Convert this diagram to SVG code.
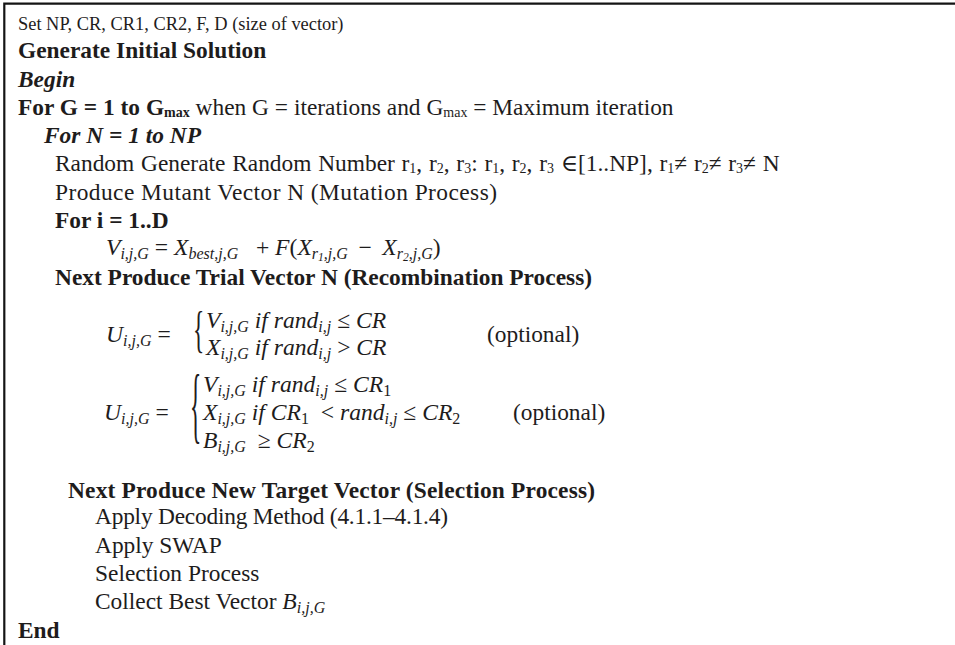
<svg xmlns="http://www.w3.org/2000/svg" width="955" height="645" viewBox="0 0 955 645">
  <style>
    .t { font-family: "Liberation Serif", "DejaVu Serif", serif; font-size: 23.4px; fill: #1e1c1c; }
    .b { font-weight: bold; }
    .bi { font-weight: bold; font-style: italic; }
    .sm { font-size: 14px; }
    .m { font-family: "Liberation Serif", "DejaVu Serif", serif; font-style: italic; font-size: 23.6px; fill: #1e1c1c; }
    .u { font-style: normal; }
    .s { font-size: 16px; }
    .ss { font-size: 11.5px; }
    .br { font-family: "Liberation Serif", "DejaVu Serif", serif; font-size: 23.4px; fill: #1e1c1c; }
  </style>

  <!-- frame: top rule and left rule -->
  <path d="M4.3 645 V3.7 H955" fill="none" stroke="#141414" stroke-width="2.2"/>

  <!-- header lines -->
  <g id="header">
    <text class="t" x="18" y="30" style="font-size:18.4px">Set NP, CR, CR1, CR2, F, D (size of vector)</text>
    <text class="t b" x="18" y="58">Generate Initial Solution</text>
    <text class="t bi" x="18" y="87">Begin</text>
    <text class="t" x="18" y="115"><tspan class="b">For G = 1 to G</tspan><tspan class="b sm" dy="2">max</tspan><tspan dy="-2"> when G = iterations and G</tspan><tspan class="sm" dy="2">max</tspan><tspan dy="-2"> = Maximum iteration</tspan></text>
  </g>

  <!-- inner loop -->
  <g id="loop-n">
    <text class="t bi" x="44" y="143">For N = 1 to NP</text>
    <text class="t" x="55" y="171" style="word-spacing:0.9px">Random Generate Random Number r<tspan class="sm" dy="2">1</tspan><tspan dy="-2">, r</tspan><tspan class="sm" dy="2">2</tspan><tspan dy="-2">, r</tspan><tspan class="sm" dy="2">3</tspan><tspan dy="-2">: r</tspan><tspan class="sm" dy="2">1</tspan><tspan dy="-2">, r</tspan><tspan class="sm" dy="2">2</tspan><tspan dy="-2">, r</tspan><tspan class="sm" dy="2">3</tspan><tspan dy="-2"> ∈[1..NP], r</tspan><tspan class="sm" dy="2">1</tspan><tspan dy="-2">≠ r</tspan><tspan class="sm" dy="2">2</tspan><tspan dy="-2">≠ r</tspan><tspan class="sm" dy="2">3</tspan><tspan dy="-2">≠ N</tspan></text>
    <text class="t" x="55" y="200" textLength="442" lengthAdjust="spacing">Produce Mutant Vector N (Mutation Process)</text>
    <text class="t b" x="55" y="228">For i = 1..D</text>
  </g>

  <!-- mutation formula -->
  <g id="mutation">
    <text class="m" x="106" y="255">V<tspan class="s" dy="4">i,j,G</tspan><tspan class="u" dy="-4"> = </tspan>X<tspan class="s" dy="4">best,j,G</tspan><tspan class="u" dy="-4">&#160;&#160; + </tspan>F<tspan class="u">(</tspan>X<tspan class="s" dy="4">r</tspan><tspan class="ss" dy="2">1</tspan><tspan class="s" dy="-2">,j,G</tspan><tspan class="u" dy="-4">&#160;&#8201;−&#8201;&#160;</tspan>X<tspan class="s" dy="4">r</tspan><tspan class="ss" dy="2">2</tspan><tspan class="s" dy="-2">,j,G</tspan><tspan class="u" dy="-4">)</tspan></text>
  </g>

  <!-- recombination -->
  <g id="recombination">
    <text class="t b" x="55" y="285">Next Produce Trial Vector N (Recombination Process)</text>

    <text class="m" x="106" y="342">U<tspan class="s" dy="4">i,j,G</tspan><tspan class="u" dy="-4"> =</tspan></text>
    <text class="br" transform="translate(193,346) scale(1,2.2)">{</text>
    <text class="m" x="206" y="328">V<tspan class="s" dy="4">i,j,G</tspan><tspan dy="-4"> if rand</tspan><tspan class="s" dy="4">i,j</tspan><tspan class="u" dy="-4"> ≤ </tspan>CR</text>
    <text class="m" x="206" y="355">X<tspan class="s" dy="4">i,j,G</tspan><tspan dy="-4"> if rand</tspan><tspan class="s" dy="4">i,j</tspan><tspan class="u" dy="-4"> &gt; </tspan>CR</text>
    <text class="t" x="487" y="342">(optional)</text>

    <text class="m" x="104" y="420">U<tspan class="s" dy="4">i,j,G</tspan><tspan class="u" dy="-4"> =</tspan></text>
    <text class="br" transform="translate(190,433) scale(1,3.6)">{</text>
    <text class="m" x="203" y="392">V<tspan class="s" dy="4">i,j,G</tspan><tspan dy="-4"> if rand</tspan><tspan class="s" dy="4">i,j</tspan><tspan class="u" dy="-4"> ≤ </tspan>CR<tspan class="u s" dy="4">1</tspan></text>
    <text class="m" x="203" y="420">X<tspan class="s" dy="4">i,j,G</tspan><tspan dy="-4"> if CR</tspan><tspan class="u s" dy="4">1</tspan><tspan class="u" dy="-4">&#160; &lt; </tspan>rand<tspan class="s" dy="4">i,j</tspan><tspan class="u" dy="-4"> ≤ </tspan>CR<tspan class="u s" dy="4">2</tspan></text>
    <text class="m" x="203" y="448">B<tspan class="s" dy="4">i,j,G</tspan><tspan class="u" dy="-4">&#160; ≥ </tspan>CR<tspan class="u s" dy="4">2</tspan></text>
    <text class="t" x="513" y="420">(optional)</text>
  </g>

  <!-- selection -->
  <g id="selection">
    <text class="t b" x="68" y="498" textLength="527" lengthAdjust="spacing">Next Produce New Target Vector (Selection Process)</text>
    <text class="t" x="95" y="524" textLength="353" lengthAdjust="spacing">Apply Decoding Method (4.1.1–4.1.4)</text>
    <text class="t" x="95" y="553">Apply SWAP</text>
    <text class="t" x="95" y="581">Selection Process</text>
    <text class="t" x="95" y="609">Collect Best Vector <tspan class="m">B</tspan><tspan class="m s" dy="4">i,j,G</tspan></text>
  </g>

  <text class="t b" x="18" y="638">End</text>
</svg>
